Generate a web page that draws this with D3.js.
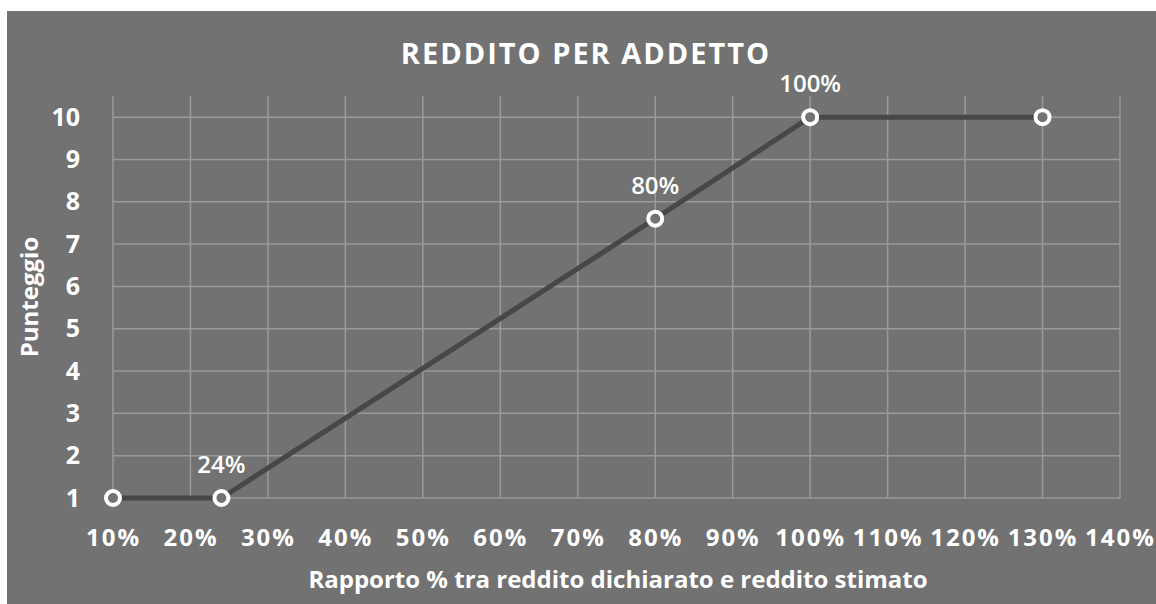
<!DOCTYPE html>
<html><head><meta charset="utf-8">
<script src="https://cdn.jsdelivr.net/npm/d3@7"></script>
<style>html,body{margin:0;padding:0;background:#fff;}svg{display:block;font-family:"Open Sans","Noto Sans",sans-serif;}</style>
</head><body>
<svg id="c" width="1156" height="604"></svg>
<script>
const title = "REDDITO PER ADDETTO";
const xLabel = "Rapporto % tra reddito dichiarato e reddito stimato";
const yLabel = "Punteggio";
const xValues = [10, 24, 80, 100, 130];
const yValues = [1, 1, 7.6, 10, 10];
const pointLabels = ["", "24%", "80%", "100%", ""];
const xTicks = [10,20,30,40,50,60,70,80,90,100,110,120,130,140];
const yTicks = [1,2,3,4,5,6,7,8,9,10];

const svg = d3.select("#c");
svg.append("rect").attr("x",7).attr("y",11).attr("width",1149).attr("height",593).attr("fill","#727272");

const x = d3.scaleLinear().domain([10,140]).range([113,1120]);
const y = d3.scaleLinear().domain([1,10.5]).range([498,96]);

const g = svg.append("g");
g.selectAll("line.vg").data(xTicks).join("line")
  .attr("x1",d=>x(d)).attr("x2",d=>x(d)).attr("y1",y(10.5)).attr("y2",y(1))
  .attr("stroke","#9a9a9a").attr("stroke-width",1.5);
g.selectAll("line.hg").data(yTicks).join("line")
  .attr("x1",x(10)).attr("x2",x(140)).attr("y1",d=>y(d)).attr("y2",d=>y(d))
  .attr("stroke","#9a9a9a").attr("stroke-width",1.5);

const xAxis = d3.axisBottom(x).tickValues(xTicks).tickFormat(d=>d+"%").tickSize(0).tickPadding(0);
const xa = svg.append("g").attr("transform","translate(0,546)").call(xAxis);
xa.select(".domain").remove();
xa.selectAll("text").attr("fill","#fff").attr("font-size",24).attr("font-weight","bold")
  .attr("letter-spacing","2px").attr("dy","0").attr("font-family","'Open Sans',sans-serif");

const yAxis = d3.axisLeft(y).tickValues(yTicks).tickSize(0).tickPadding(0);
const ya = svg.append("g").attr("transform","translate(80,0)").call(yAxis);
ya.select(".domain").remove();
ya.selectAll("text").attr("fill","#fff").attr("font-size",25).attr("font-weight","bold")
  .attr("font-family","'Open Sans',sans-serif");

const pts = xValues.map((v,i)=>({x:v,y:yValues[i],l:pointLabels[i]}));
svg.append("path").datum(pts)
  .attr("d", d3.line().x(d=>x(d.x)).y(d=>y(d.y)))
  .attr("fill","none").attr("stroke","#474747").attr("stroke-width",5);
svg.selectAll("circle.pt").data(pts).join("circle")
  .attr("cx",d=>x(d.x)).attr("cy",d=>y(d.y)).attr("r",7)
  .attr("fill","#727272").attr("stroke","#fff").attr("stroke-width",4);
svg.selectAll("text.pl").data(pts).join("text")
  .attr("x",d=>x(d.x)).attr("y",d=>y(d.y)-25)
  .attr("text-anchor","middle").attr("fill","#fff").attr("font-size",24).attr("font-weight",600)
  .text(d=>d.l);

svg.append("text").attr("x",586).attr("y",64).attr("text-anchor","middle")
  .attr("fill","#fff").attr("font-size",29).attr("font-weight","bold").attr("letter-spacing","2px")
  .text(title);
svg.append("text").attr("x",618).attr("y",588).attr("text-anchor","middle")
  .attr("fill","#fff").attr("font-size",24).attr("font-weight","bold").text(xLabel);
svg.append("text").attr("transform","translate(38,297) rotate(-90)").attr("text-anchor","middle")
  .attr("fill","#fff").attr("font-size",24).attr("font-weight","bold").text(yLabel);
</script>
</body></html>
